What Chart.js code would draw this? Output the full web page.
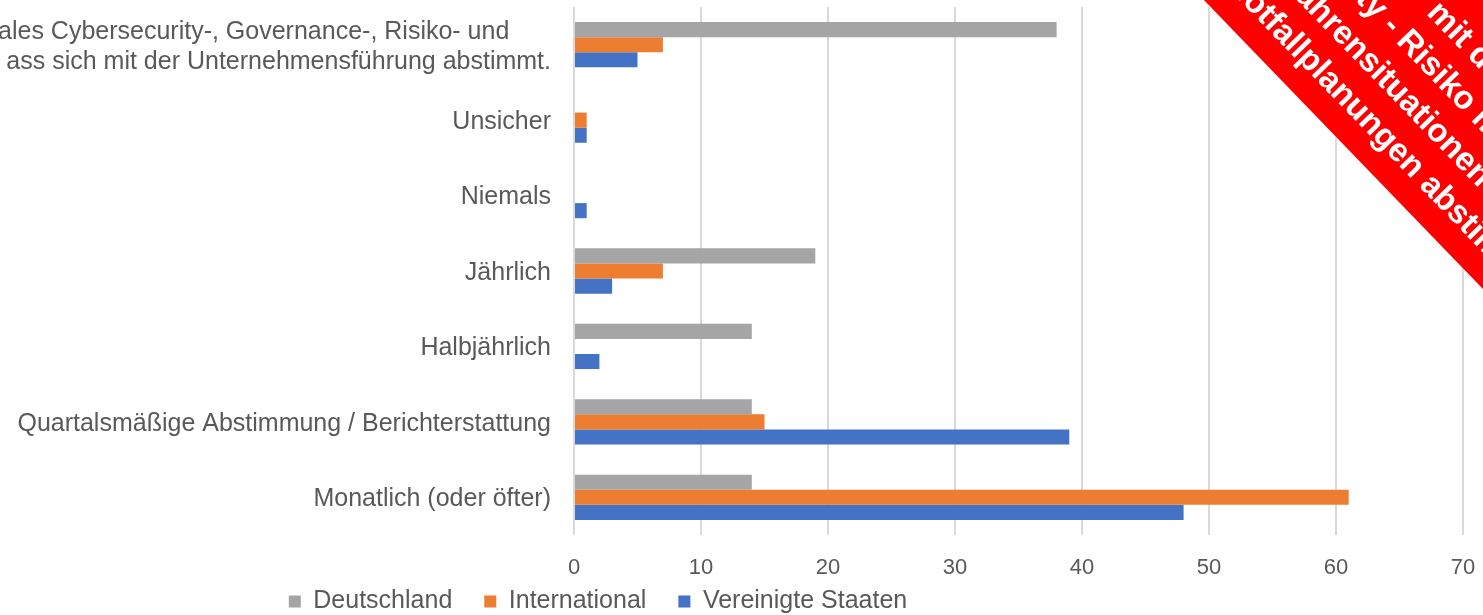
<!DOCTYPE html>
<html><head><meta charset="utf-8">
<script src="https://cdn.jsdelivr.net/npm/chart.js@4.4.1/dist/chart.umd.min.js"></script>
<style>
html,body{margin:0;padding:0;background:#fff;overflow:hidden;}
#wrap{position:relative;width:1483px;height:615px;overflow:hidden;background:#fff;}
#c{position:absolute;left:-287px;top:0;}
.band{position:absolute;background:#ff0000;transform-origin:0 0;}
.bt{position:absolute;white-space:nowrap;color:#fff;font-weight:bold;font-family:"Liberation Sans",Arial,sans-serif;transform-origin:0 0;}
</style></head><body>
<div id="wrap"><canvas id="c" width="1770" height="624"></canvas></div>
<script>
// ---- data ----
const categories = [
  ["ales Cybersecurity-, Governance-, Risiko- und      ", "ass sich mit der Unternehmensführung abstimmt."],
  "Unsicher",
  "Niemals",
  "Jährlich",
  "Halbjährlich",
  "Quartalsmäßige Abstimmung / Berichterstattung",
  "Monatlich (oder öfter)"
];
const seriesNames = ["Deutschland", "International", "Vereinigte Staaten"];
const deutschland       = [38, 0, 0, 19, 14, 14, 14];
const international     = [7, 1, 0, 7, 0, 15, 61];
const vereinigteStaaten = [5, 1, 1, 3, 2, 39, 48];
const xTicks = [0, 10, 20, 30, 40, 50, 60, 70];
const bannerText = ["Notfallplanungen abstimmt", "Gefahrensituationen und", "Cybersecurity - Risiko mit", "mit der"];
const bannerPrefix = ["Notfallplanungen ", "Gefahren", "Cybersecurity - ", ""];

// ---- layout (positions/styles) ----
const bannerAnchorS = [1118.7, 987.1, 999.2, 1000];
const bannerBaseT   = [891.5, 933, 974.5, 1016];
const bannerAngle = 46, bannerEdgeT = 865.6, bannerFont = 33;

Chart.defaults.font.family = '"Liberation Sans", Arial, sans-serif';
Chart.defaults.color = '#595959';

const unclipXLabels = {
  id: 'unclipXLabels',
  beforeDraw(chart) {
    const sx = chart.scales.x;
    if (sx) sx._computeLabelArea = function () { return undefined; };
  }
};

new Chart(document.getElementById('c').getContext('2d'), {
  type: 'bar',
  data: {
    labels: categories,
    datasets: [
      {label: seriesNames[0], data: deutschland, backgroundColor: '#A5A5A5'},
      {label: seriesNames[1], data: international, backgroundColor: '#ED7D31'},
      {label: seriesNames[2], data: vereinigteStaaten, backgroundColor: '#4472C4'}
    ]
  },
  plugins: [unclipXLabels],
  options: {
    indexAxis: 'y',
    responsive: false,
    animation: false,
    devicePixelRatio: 1,
    datasets: {bar: {categoryPercentage: 0.6, barPercentage: 1.0, borderWidth: 0}},
    layout: {padding: {top: 7, right: 20, left: 20, bottom: 0}},
    plugins: {
      legend: {position: 'bottom', labels: {boxWidth: 12, boxHeight: 12, padding: 32, font: {size: 25}, color: '#595959'}},
      tooltip: {enabled: false}
    },
    scales: {
      x: {
        min: xTicks[0], max: xTicks[xTicks.length - 1],
        ticks: {stepSize: xTicks[1] - xTicks[0], padding: 20, font: {size: 22}, color: '#595959'},
        grid: {color: '#d9d9d9', lineWidth: 2, drawTicks: false},
        border: {display: false},
        afterFit(s) { s.height = 22; s.paddingLeft = 0; s.paddingRight = 0; }
      },
      y: {
        ticks: {padding: 23, font: {size: 25}, color: '#595959', autoSkip: false, labelOffset: 2},
        grid: {display: false, drawTicks: false},
        border: {display: false},
        afterFit(s) { s.width = 841; s.paddingTop = 0; s.paddingBottom = 0; }
      }
    }
  }
});

// ---- red corner banner ----
(function () {
  const ang = bannerAngle * Math.PI / 180, co = Math.cos(ang), si = Math.sin(ang);
  const toScreen = (s, t) => [s * co + t * si, s * si - t * co];
  const wrap = document.getElementById('wrap');
  const band = document.createElement('div');
  band.className = 'band';
  const bs = -600, btop = 1300;
  const p = toScreen(bs, btop);
  band.style.left = p[0] + 'px'; band.style.top = p[1] + 'px';
  band.style.width = '3000px'; band.style.height = (btop - bannerEdgeT) + 'px';
  band.style.transform = 'rotate(' + bannerAngle + 'deg)';
  wrap.appendChild(band);
  const m = document.createElement('canvas').getContext('2d');
  m.font = 'bold ' + bannerFont + 'px "Liberation Sans", Arial, sans-serif';
  const fm = m.measureText('Hg');
  const asc = fm.fontBoundingBoxAscent || bannerFont * 0.905;
  const desc = fm.fontBoundingBoxDescent || bannerFont * 0.212;
  const baseOff = (bannerFont - (asc + desc)) / 2 + asc;
  bannerText.forEach((txt, i) => {
    const pw = m.measureText(bannerPrefix[i]).width;
    const s0 = bannerAnchorS[i] - pw;
    const tTop = bannerBaseT[i] + baseOff;
    const q = toScreen(s0, tTop);
    const sp = document.createElement('span');
    sp.className = 'bt';
    sp.textContent = txt;
    sp.style.fontSize = bannerFont + 'px';
    sp.style.lineHeight = bannerFont + 'px';
    sp.style.left = q[0] + 'px'; sp.style.top = q[1] + 'px';
    sp.style.transform = 'rotate(' + bannerAngle + 'deg)';
    wrap.appendChild(sp);
  });
})();
</script>
</body></html>
